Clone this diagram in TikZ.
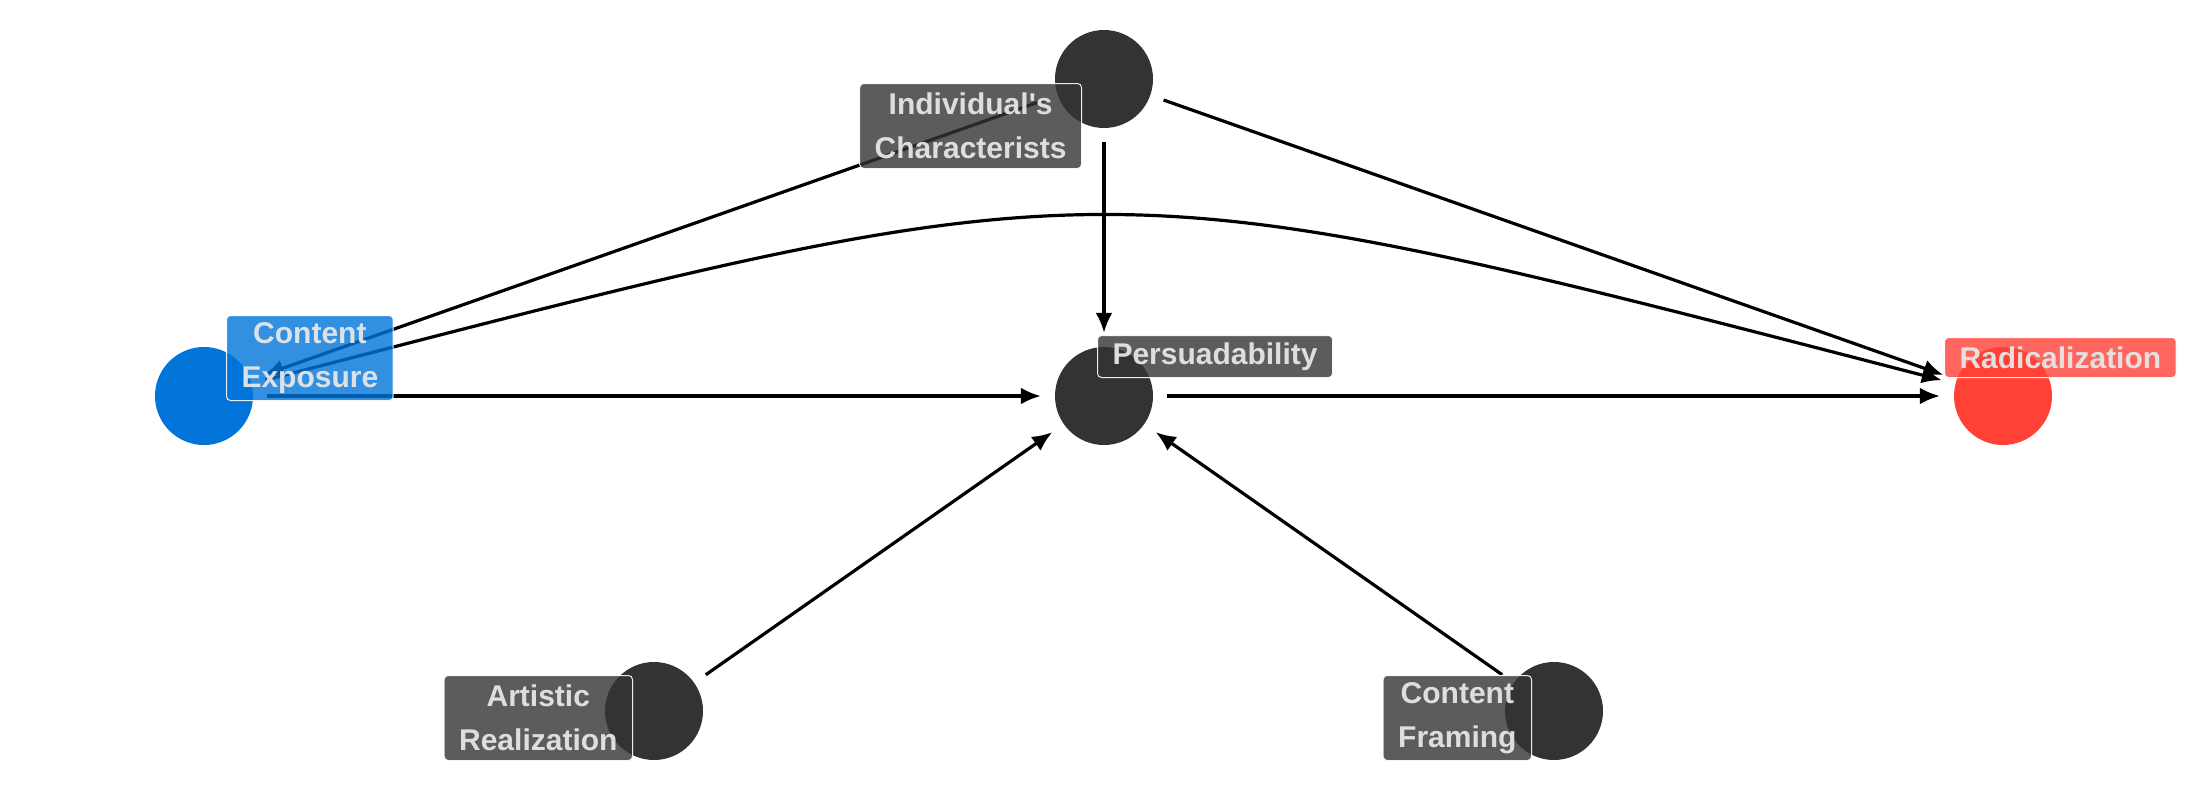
\documentclass[tikz,border=0pt]{standalone}
\usepackage{fontspec}
\setmainfont{Liberation Sans}
\usetikzlibrary{arrows.meta}
\definecolor{nodedark}{HTML}{333333}
\definecolor{nodeblue}{HTML}{0074D9}
\definecolor{nodered}{HTML}{FF4136}
\definecolor{lbltext}{HTML}{E6E6E6}
\begin{document}
\begin{tikzpicture}[x=1pt,y=-1pt,
  var/.style={circle, minimum size=98pt, inner sep=0pt, fill=#1},
  lbl/.style={rounded corners=4pt, fill=#1, fill opacity=0.8, draw=white, draw opacity=0.9, line width=1pt, text=lbltext, text opacity=0.95, font=\fontsize{30}{44}\selectfont\bfseries, align=center, inner xsep=15pt, inner ysep=7pt, minimum height=40pt},
  lbltwo/.style={lbl=#1, inner ysep=2pt, minimum height=85pt},
  edge/.style={line width=3.2pt, -{Latex[length=20pt,width=17pt]}, shorten >=14pt, shorten <=14pt}
]
\useasboundingbox (0,0) rectangle (2200,800);
\node[var=nodedark] (ind) at (1104,79) {};
\node[var=nodeblue] (ce) at (204,396) {};
\node[var=nodedark] (pers) at (1104,396) {};
\node[var=nodered] (rad) at (2003,396) {};
\node[var=nodedark] (art) at (654,711) {};
\node[var=nodedark] (frm) at (1554,711) {};
\draw[edge] (ind) -- (pers);
\draw[edge] (ind) -- (rad);
\draw[edge] (ind) -- (ce);
\draw[edge] (ce) -- (pers);
\draw[edge] (pers) -- (rad);
\draw[edge] (art) -- (pers);
\draw[edge] (frm) -- (pers);
\draw[edge] (ce) .. controls +(912,-236) and +(-912,-236) .. (rad);
\node[lbltwo=nodedark, anchor=north east] (indl) at (1082,83) {Individual\textquotesingle s\\Characterists};
\node[lbltwo=nodeblue, anchor=south west] (cel) at (226,401) {Content\\Exposure};
\node[lbl=nodedark, anchor=south west] (persl) at (1097,378) {Persuadability};
\node[lbl=nodered, anchor=south west] (radl) at (1944,378) {Radicalization};
\node[lbltwo=nodedark, anchor=north east] (artl) at (633,675) {Artistic\\Realization};
\node[lbltwo=nodedark, anchor=north east] (frml) at (1532,675) {Content\\Framing};
\end{tikzpicture}
\end{document}
